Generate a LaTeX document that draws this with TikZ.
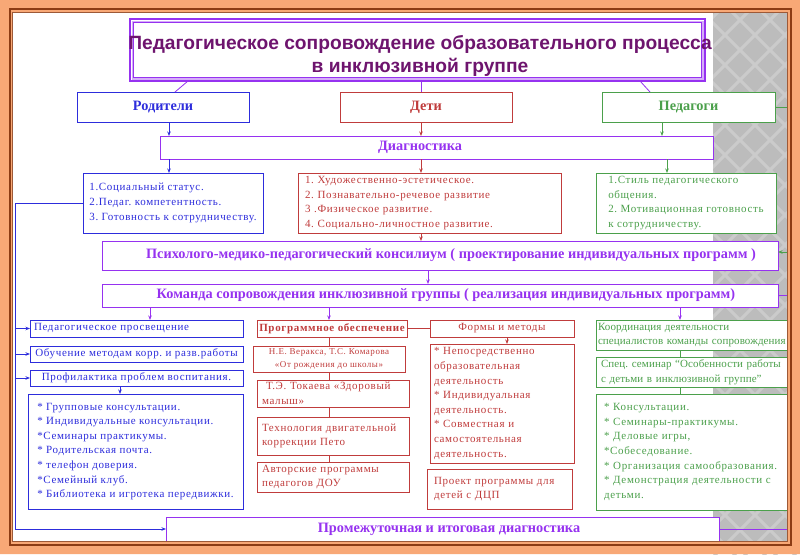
\documentclass[tikz,border=0pt]{standalone}
\usepackage{fontspec}
\setmainfont{Liberation Serif}
\newfontfamily\titlefont{Liberation Sans}
\newfontfamily\bodyfont[LetterSpace=6]{Liberation Serif}
\newfontfamily\bodytight[LetterSpace=1]{Liberation Serif}
\usetikzlibrary{arrows.meta,calc}
\definecolor{cblue}{RGB}{45,45,220}
\definecolor{cred}{RGB}{192,60,60}
\definecolor{cgreen}{RGB}{75,160,75}
\definecolor{cpurple}{RGB}{150,50,240}
\definecolor{ctitle}{RGB}{110,20,110}
\definecolor{corange}{RGB}{248,168,118}
\definecolor{cbrown}{RGB}{140,60,20}
\definecolor{cgrey}{RGB}{188,188,188}
\definecolor{cgreyd}{RGB}{203,203,203}
\begin{document}
\frenchspacing
\begin{tikzpicture}[x=1pt,y=-1pt,
 bx/.style={draw, fill=white, line width=0.9pt, inner sep=0pt, outer sep=0pt},
 bb/.style={bx, draw=cblue, text=cblue},
 rb/.style={bx, draw=cred, text=cred},
 gb/.style={bx, draw=cgreen, text=cgreen},
 pb/.style={bx, draw=cpurple, text=cpurple},
 body/.style={font=\bodyfont\fontsize{11}{14.6}\selectfont},
 tight/.style={font=\bodytight\fontsize{11}{14.6}\selectfont},
 small/.style={font=\bodyfont\fontsize{9}{12.5}\selectfont},
 head/.style={font=\fontsize{14.3}{16}\selectfont\bfseries},
 arr/.style={-{Stealth[length=4.5pt,width=3.5pt]}, line width=0.8pt},
 ln/.style={line width=0.8pt},
]
\useasboundingbox (0,0) rectangle (800,554);
% background
\fill[white] (0,0) rectangle (800,554);
\fill[cgrey] (713,0) rectangle (800,554);
\begin{scope}
\clip (713,0) rectangle (800,554);
\foreach \k in {0,...,26} {
  \draw[cgreyd, line width=3pt] ({150+\k*30},0) -- ++(570,570);
  \draw[cgreyd, line width=3pt] ({700+\k*30},0) -- ++(-570,570);
}
\end{scope}

% title
\node[bx, draw=cpurple, line width=1.8pt, minimum width=575, minimum height=62] (title) at (417.5,50) {};
\draw[cpurple!40, line width=1.6pt] ($(title.north west)+(2.3,2.3)$) rectangle ($(title.south east)+(-2.3,-2.3)$);
\draw[cpurple, line width=0.8pt] ($(title.north west)+(3.8,3.8)$) rectangle ($(title.south east)+(-3.8,-3.8)$);
\node[anchor=base, text=ctitle, font=\titlefont\fontsize{19.2}{23}\selectfont\bfseries] (t1) at (420,49.5) {Педагогическое сопровождение образовательного процесса};
\node[anchor=base, text=ctitle, font=\titlefont\fontsize{19.2}{23}\selectfont\bfseries] (t2) at (420,72.5) {в инклюзивной группе};

% level 2
\node[bb, head, minimum width=172, minimum height=30] (par) at (163,107) {Родители};
\node[rb, head, minimum width=172, minimum height=30] (chi) at (426,107) {Дети};
\node[gb, head, minimum width=173, minimum height=30] (tea) at (688.5,107) {Педагоги};

% diagnostics
\node[pb, minimum width=553, minimum height=23] (diag) at (436.5,147.5) {};
\node[head, text=cpurple] (diagt) at (420,147.5) {Диагностика};

% lists
\node[bb, body, minimum width=180, minimum height=60, align=left] (soc) at (173,203) {1.Социальный статус.\\2.Педаг. компетентность.\\3. Готовность к сотрудничеству.};
\node[rb, body, minimum width=263, minimum height=60, text width=249, align=left] (chl) at (429.5,203) {1. Художественно-эстетическое.\\2. Познавательно-речевое развитие\\3 .Физическое развитие.\\4. Социально-личностное развитие.};
\node[gb, body, minimum width=180, minimum height=60, align=left] (tel) at (686,203) {1.Стиль педагогического\\общения.\\2. Мотивационная готовность\\к сотрудничеству.};

% consilium and team
\node[pb, minimum width=676, minimum height=29] (pmpk) at (440,255.5) {};
\node[head, text=cpurple] (pmpkt) at (451,255.5) {Психолого-медико-педагогический консилиум ( проектирование индивидуальных программ )};
\node[pb, minimum width=676, minimum height=23] (team) at (440,295.5) {};
\node[head, text=cpurple] (teamt) at (446,295.5) {Команда сопровождения инклюзивной группы ( реализация индивидуальных программ)};

% left column
\node[bb, body, minimum width=213, minimum height=17, text width=205, align=left] (pp) at (136.5,328.5) {Педагогическое просвещение};
\node[bb, body, minimum width=213, minimum height=16] (ob) at (136.5,354) {Обучение методам корр. и разв.работы};
\node[bb, body, minimum width=213, minimum height=16] (pf) at (136.5,378) {Профилактика проблем воспитания.};
\node[bb, body, minimum width=215, minimum height=115, align=left] (plist) at (135.5,451.5) {* Групповые консультации.\\{}* Индивидуальные консультации.\\{}*Семинары практикумы.\\{}* Родительская почта.\\{}* телефон доверия.\\{}*Семейный клуб.\\{}* Библиотека и игротека передвижки.};

% middle column
\node[rb, body, minimum width=150, minimum height=17] (prog) at (332,328.5) {\bfseries Программное обеспечение};
\node[rb, body, minimum width=144, minimum height=17] (forms) at (502,328.5) {Формы и методы};
\node[rb, body, minimum width=144, minimum height=119, text width=136, align=left] (flist) at (502,403.5) {* Непосредственно\\образовательная\\деятельность\\{}* Индивидуальная\\деятельность.\\{}* Совместная и\\самостоятельная\\деятельность.};
\node[rb, body, minimum width=145, minimum height=40, text width=131, align=left] (dcp) at (499.5,489) {Проект программы для\\детей с ДЦП};
\node[rb, small, minimum width=152, minimum height=26, align=center] (ver) at (329,359) {Н.Е. Веракса, Т.С. Комарова\\«От рождения до школы»};
\node[rb, body, minimum width=152, minimum height=27, text width=142, align=left] (tok) at (333,393.5) {\hspace*{4pt}Т.Э. Токаева «Здоровый\\малыш»};
\node[rb, body, minimum width=152, minimum height=38, text width=142, align=left] (peto) at (333,436) {Технология двигательной\\коррекции Пето};
\node[rb, body, minimum width=152, minimum height=30, text width=142, align=left] (avt) at (333,477) {Авторские программы\\педагогов ДОУ};

% right column
\node[gb, tight, minimum width=211, minimum height=30, inner xsep=2pt, text width=207, align=left] (coord) at (701.5,335) {Координация деятельности\\специалистов команды сопровождения};
\node[gb, tight, minimum width=215, minimum height=30, inner xsep=5pt, text width=205, align=left] (spec) at (703.5,372) {Спец. семинар “Особенности работы\\с детьми в инклюзивной группе”};
\node[gb, body, minimum width=192, minimum height=116, inner xsep=8pt, text width=176, align=left] (tlist) at (692,452) {* Консультации.\\{}* Семинары-практикумы.\\{}* Деловые игры,\\{}*Собеседование.\\{}* Организация самообразования.\\{}* Демонстрация деятельности с\\детьми.};

% final
\node[pb, minimum width=553, minimum height=24] (final) at (442.5,529) {};
\node[head, text=cpurple] (finalt) at (449,529) {Промежуточная и итоговая диагностика};

% connectors from title
\draw[cpurple, ln] ($(title.south west)+(58,0)$) -- ($(par.north west)+(98,0)$);
\draw[cpurple, ln] ($(title.south)+(3.5,0)$) -- ($(chi.north)+(-5,0)$);
\draw[cpurple, ln] ($(title.south east)+(-65,0)$) -- ($(tea.north west)+(48,0)$);

% arrows to and from diagnostics
\draw[cblue, arr] ($(par.south)+(6,0)$) -- ($(par.south |- diag.north)+(6,0)$);
\draw[cblue, arr] ($(soc.north |- diag.south)+(-4,0)$) -- ($(soc.north)+(-4,0)$);
\draw[cred, arr] ($(chi.south)+(-5,0)$) -- ($(chi.south |- diag.north)+(-5,0)$);
\draw[cred, arr] ($(chl.north |- diag.south)+(-8.5,0)$) -- ($(chl.north)+(-8.5,0)$);
\draw[cgreen, arr] ($(tea.south)+(-26.5,0)$) -- ($(tea.south |- diag.north)+(-26.5,0)$);
\draw[cgreen, arr] ($(tel.north |- diag.south)+(-19,0)$) -- ($(tel.north)+(-19,0)$);
\draw[cred, arr] ($(chl.south)+(-8.5,0)$) -- ($(chl.south |- pmpk.north)+(-8.5,0)$);
\draw[cpurple, arr] ($(pmpk.south)+(-12,0)$) -- ($(pmpk.south |- team.north)+(-12,0)$);

% from team
\draw[cpurple, arr] ($(pp.north |- team.south)+(13.5,0)$) -- ($(pp.north)+(13.5,0)$);
\draw[cpurple, arr] ($(prog.north |- team.south)+(-3,0)$) -- ($(prog.north)+(-3,0)$);
\draw[cpurple, arr] ($(coord.north |- team.south)+(-21.5,0)$) -- ($(coord.north)+(-21.5,0)$);

% inner links
\draw[cblue, arr] ($(pf.south)+(-16.5,0)$) -- ($(pf.south |- plist.north)+(-16.5,0)$);
\draw[cred, ln] (prog.east) -- (forms.west);
\draw[cred, arr] ($(forms.south)+(5,0)$) -- ($(forms.south |- flist.north)+(5,0)$);
\draw[cred, ln] ($(prog.south)+(-3,0)$) -- (ver.north);
\draw[cred, ln] (ver.south) -- ($(tok.north)+(-4,0)$);
\draw[cred, ln] ($(tok.south)+(-4,0)$) -- ($(peto.north)+(-4,0)$);
\draw[cred, ln] ($(peto.south)+(-4,0)$) -- ($(avt.north)+(-4,0)$);
\draw[cgreen, ln] ($(coord.south)+(-21.5,0)$) -- ($(spec.north)+(-23.5,0)$);
\draw[cgreen, ln] ($(spec.south)+(-23.5,0)$) -- ($(tlist.north)+(-12,0)$);

% side connectors
\coordinate (gr) at (789,0);
\coordinate (bl) at (15,0);
\draw[cgreen, arr] (tea.east) -- (tea.east -| gr) -- ($(pmpk.east -| gr)+(0,-3.5)$) -- ($(pmpk.east)+(0,-3.5)$);
\draw[cpurple, ln] (team.east) -- (team.east -| gr) -- (final.east -| gr) -- (final.east);
\draw[cblue, arr] (soc.west) -- (soc.west -| bl) -- (final.west -| bl) -- (final.west);
\draw[cblue, arr] (pp.west -| bl) -- (pp.west);
\draw[cblue, arr] (ob.west -| bl) -- (ob.west);
\draw[cblue, arr] (pf.west -| bl) -- (pf.west);

% frame
\fill[corange, even odd rule] (0,0) rectangle (800,554) (12.5,12) rectangle (787.5,541.5);
\draw[cbrown, line width=2pt] (9.5,9) rectangle (790.5,544.5);
\draw[cbrown!85, line width=0.9pt] (12.5,12) rectangle (787.5,541.5);
\end{tikzpicture}
\end{document}
